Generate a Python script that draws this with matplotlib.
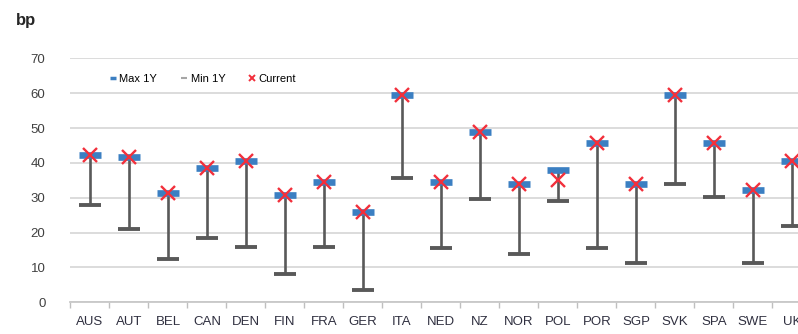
import matplotlib
matplotlib.use("Agg")
import matplotlib.pyplot as plt
from matplotlib.lines import Line2D
import numpy as np

countries = ["AUS", "AUT", "BEL", "CAN", "DEN", "FIN", "FRA", "GER", "ITA", "NED",
             "NZ", "NOR", "POL", "POR", "SGP", "SVK", "SPA", "SWE", "UK"]
max_1y = [42.4, 41.8, 31.4, 38.5, 40.4, 30.8, 34.5, 25.8, 59.5, 34.5,
          48.9, 33.9, 37.9, 45.8, 33.9, 59.5, 45.8, 32.2, 40.5]
min_1y = [27.9, 20.9, 12.3, 18.4, 16.0, 8.1, 16.0, 3.4, 35.7, 15.5,
          29.7, 13.9, 29.0, 15.5, 11.2, 33.9, 30.3, 11.2, 22.0]
current = [42.4, 41.8, 31.4, 38.5, 40.4, 30.8, 34.5, 25.8, 59.5, 34.5,
           48.9, 33.9, 35.0, 45.8, 33.9, 59.5, 45.8, 32.2, 40.5]
y_ticks = [0, 10, 20, 30, 40, 50, 60, 70]

BLUE = "#3b7fc2"
GREY = "#595959"
RED = "#f2303c"

plt.rcParams["font.family"] = ["Liberation Sans", "DejaVu Sans"]

fig = plt.figure(figsize=(7.98, 3.34), dpi=100)
# plot area runs slightly past the right edge of the figure
ax = fig.add_axes([0.0883, 0.0949, 0.9286, 0.7305])

x = np.arange(len(countries))

ax.vlines(x, min_1y, max_1y, color=GREY, lw=1.9, zorder=3)
ax.plot(x, min_1y, ls="none", marker="_", ms=16, mew=2.8, color=GREY, zorder=4)
ax.plot(x, max_1y, ls="none", marker="_", ms=16.5, mew=4.8, color=BLUE, zorder=5)
ax.plot(x, current, ls="none", marker="x", ms=10.5, mew=1.7, color=RED, zorder=6)

ax.set_xlim(-0.5, len(countries) - 0.5)
ax.set_ylim(0, 70)
ax.set_yticks(y_ticks)
ax.set_yticklabels([str(t) for t in y_ticks], fontsize=9.5, color="#404040")
ax.tick_params(axis="y", length=0, pad=18)

ax.set_xticks(x)
ax.set_xticklabels(countries, fontsize=9.5, color="#303040")
ax.tick_params(axis="x", which="major", length=0, pad=10)
ax.set_xticks(np.arange(-0.5, len(countries) + 0.5, 1), minor=True)
ax.tick_params(axis="x", which="minor", length=4, width=1, color="#bfbfbf")

ax.grid(axis="y", color="#d9d9d9", lw=1.3, zorder=0)
ax.set_axisbelow(True)
for side in ["top", "right", "left"]:
    ax.spines[side].set_visible(False)
ax.spines["bottom"].set_color("#c8c8c8")
ax.spines["bottom"].set_linewidth(1.3)

handles = [
    Line2D([], [], ls="none", marker="_", ms=5, mew=2.5, color=BLUE, label="Max 1Y"),
    Line2D([], [], ls="none", marker="_", ms=5, mew=1.5, color="#a6a6a6", label="Min 1Y"),
    Line2D([], [], ls="none", marker="x", ms=5, mew=1.4, color=RED, label="Current"),
]
ax.legend(handles=handles, loc="center left", bbox_to_anchor=(0.045, 0.915),
          ncol=3, frameon=False, fontsize=8, handlelength=0.8,
          handletextpad=0.2, columnspacing=2.0, borderaxespad=0)

fig.text(0.02, 0.94, "bp", fontsize=12, fontweight="bold", color="#262626",
         va="center", ha="left")

fig.savefig("out.png", dpi=100)
